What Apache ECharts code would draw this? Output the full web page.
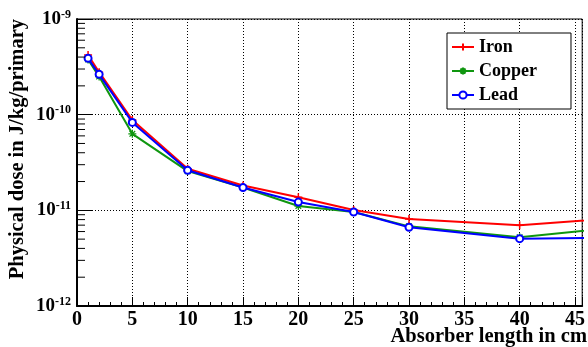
<!DOCTYPE html>
<html>
<head>
<meta charset="utf-8">
<script src="https://cdn.jsdelivr.net/npm/echarts@6/dist/echarts.min.js"></script>
<style>html,body{margin:0;padding:0;background:#fff}#c{width:588px;height:347px}</style>
</head>
<body>
<div id="c"></div>
<script>
// Absorber length (cm); last point lies beyond the visible range (line runs off the right edge)
const lengths = [1, 2, 5, 10, 15, 20, 25, 30, 40, 50];
const iron   = [4.2e-10, 2.78e-10, 8.8e-11, 2.72e-11, 1.82e-11, 1.37e-11, 1.01e-11, 8.1e-12, 7.0e-12, 8.45e-12];
const copper = [3.77e-10, 2.5e-10, 6.3e-11, 2.57e-11, 1.73e-11, 1.11e-11, 9.6e-12, 6.8e-12, 5.24e-12, 6.84e-12];
const lead   = [3.88e-10, 2.64e-10, 8.3e-11, 2.62e-11, 1.73e-11, 1.22e-11, 9.6e-12, 6.65e-12, 5.06e-12, 5.2e-12];
const xTicks = [0, 5, 10, 15, 20, 25, 30, 35, 40, 45];
const yDecades = [-12, -11, -10, -9];

const X_MIN = 0, X_MAX = 45.65;
const FONT = '"Liberation Serif", "DejaVu Serif", serif';

// minor tick positions for the log axis (2..9 x 10^e)
const minorTickValues = [];
for (let i = 0; i < yDecades.length - 1; i++) {
  for (let k = 2; k <= 9; k++) minorTickValues.push(k * Math.pow(10, yDecades[i]));
}

const pair = arr => lengths.map((x, i) => [x, arr[i]]);

const plusSym = 'path://M5,0L5,10M0,5L10,5';
const starSym = 'path://M5,0L5,10M0,5L10,5M1.5,1.5L8.5,8.5M1.5,8.5L8.5,1.5';

const chart = echarts.init(document.getElementById('c'), null, {renderer: 'canvas'});
chart.setOption({
  animation: false,
  backgroundColor: '#fff',
  grid: {left: 77, top: 19, width: 509, height: 287, show: true, borderColor: '#000', borderWidth: 1, backgroundColor: 'transparent'},
  xAxis: {
    type: 'value', min: X_MIN, max: X_MAX, interval: 5,
    axisLine: {show: true, lineStyle: {color: '#000', width: 2}},
    axisTick: {show: true, inside: true, length: 9, lineStyle: {color: '#000', width: 1}},
    minorTick: {show: true, splitNumber: 5, length: 4, lineStyle: {color: '#000', width: 1}},
    splitLine: {show: true, lineStyle: {color: '#000', type: [1, 2], width: 1}},
    axisLabel: {
      color: '#000', fontFamily: FONT, fontWeight: 'bold', fontSize: 20, margin: 4,
      formatter: v => (xTicks.indexOf(v) >= 0 ? String(v) : '')
    }
  },
  yAxis: {
    type: 'log', logBase: 10, min: 1e-12, max: 1e-9,
    axisLine: {show: true, lineStyle: {color: '#000', width: 2}},
    axisTick: {show: true, inside: true, length: 16, lineStyle: {color: '#000', width: 1}},
    splitLine: {show: true, lineStyle: {color: '#000', type: [1, 2], width: 1}},
    axisLabel: {
      margin: 6,
      formatter: v => {
        const e = Math.round(Math.log10(v));
        return '{b|10}{s|' + e + '}';
      },
      rich: {
        b: {fontFamily: FONT, fontWeight: 'bold', fontSize: 19, color: '#000'},
        s: {fontFamily: FONT, fontWeight: 'bold', fontSize: 12, color: '#000', padding: [0, 0, 9, 0]}
      }
    }
  },
  legend: {
    data: ['Iron', 'Copper', 'Lead'],
    orient: 'vertical', left: 447, top: 33,
    backgroundColor: '#fff', borderColor: '#000', borderWidth: 1,
    padding: [5, 34, 5, 4], itemGap: 6, itemWidth: 22, itemHeight: 9,
    textStyle: {fontFamily: FONT, fontWeight: 'bold', fontSize: 18, color: '#000', padding: [0, 0, 0, 0]}
  },
  series: [
    {
      name: 'Iron', type: 'line', data: pair(iron), symbol: plusSym, symbolSize: 8,
      lineStyle: {color: '#ff0000', width: 2}, itemStyle: {color: '#ff0000', borderColor: '#ff0000', borderWidth: 1.5},
      z: 4
    },
    {
      name: 'Copper', type: 'line', data: pair(copper), symbol: starSym, symbolSize: 8,
      lineStyle: {color: '#0f960f', width: 2}, itemStyle: {color: '#0f960f', borderColor: '#0f960f', borderWidth: 1.3},
      z: 3
    },
    {
      name: 'Lead', type: 'line', data: pair(lead), symbol: 'emptyCircle', symbolSize: 7,
      lineStyle: {color: '#0000ff', width: 2}, itemStyle: {color: '#0000ff', borderColor: '#0000ff', borderWidth: 1.6},
      z: 5
    },
    {
      name: 'minorTicks', type: 'custom', silent: true, z: 6,
      data: minorTickValues.map(v => [X_MIN, v]),
      renderItem: (params, api) => {
        const p = api.coord([api.value(0), api.value(1)]);
        return {type: 'line', shape: {x1: p[0], y1: p[1], x2: p[0] + 8, y2: p[1]}, style: {stroke: '#000', lineWidth: 1}};
      }
    }
  ],
  graphic: [
    {type: 'text', x: 587, y: 337, style: {text: 'Absorber length in cm', font: 'bold 20.5px ' + FONT, fill: '#000', align: 'right', verticalAlign: 'middle'}},
    {type: 'text', x: 18, y: 19, rotation: Math.PI / 2, style: {text: 'Physical dose in J/kg/primary', font: 'bold 20.5px ' + FONT, fill: '#000', align: 'right', verticalAlign: 'middle'}}
  ]
});
</script>
</body>
</html>
